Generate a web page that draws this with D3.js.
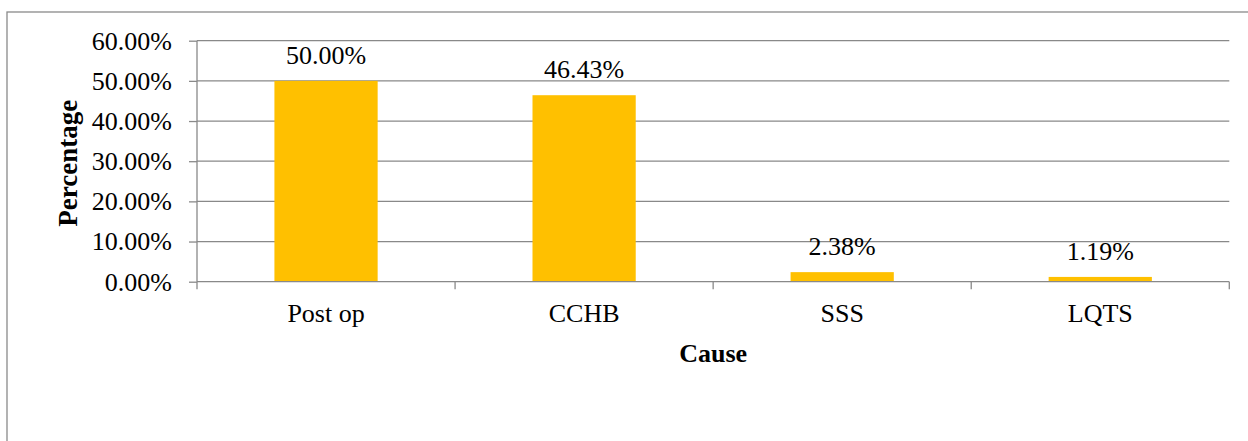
<!DOCTYPE html>
<html>
<head>
<meta charset="utf-8">
<script src="https://cdn.jsdelivr.net/npm/d3@7"></script>
<style>
  html, body { margin: 0; padding: 0; background: #fff; }
  svg { display: block; }
  text { font-family: "Liberation Serif", "Times New Roman", serif; fill: #000; }
</style>
</head>
<body>
<svg id="chart" width="1248" height="441"></svg>
<script>
// Causes and their share of cases
const categories = ["Post op", "CCHB", "SSS", "LQTS"];
const percentages = [0.5000, 0.4643, 0.0238, 0.0119];
const yTicks = [0, 0.1, 0.2, 0.3, 0.4, 0.5, 0.6];
const yTitle = "Percentage";
const xTitle = "Cause";

const svg = d3.select("#chart");
const plot = { left: 197, right: 1229.3, top: 40.7, bottom: 281.7 };
const fmt = d3.format(".2%");
const gridColor = "#898989";
const fontSize = "26px";

// outer frame
svg.append("rect")
  .attr("x", 7).attr("y", 12)
  .attr("width", 1260).attr("height", 460)
  .attr("fill", "none").attr("stroke", "#8a8a8a").attr("stroke-width", 1.3);

const x = d3.scaleBand()
  .domain(categories)
  .range([plot.left, plot.right])
  .paddingInner(0.6)
  .paddingOuter(0.3);

const y = d3.scaleLinear()
  .domain([0, 0.6])
  .range([plot.bottom, plot.top]);

// horizontal gridlines
svg.append("g")
  .selectAll("line")
  .data(yTicks.filter(d => d > 0))
  .join("line")
  .attr("x1", plot.left).attr("x2", plot.right)
  .attr("y1", d => y(d)).attr("y2", d => y(d))
  .attr("stroke", gridColor).attr("stroke-width", 1.3);

// bars
svg.append("g")
  .selectAll("rect")
  .data(categories)
  .join("rect")
  .attr("x", d => x(d))
  .attr("width", x.bandwidth())
  .attr("y", (d, i) => y(percentages[i]))
  .attr("height", (d, i) => y(0) - y(percentages[i]))
  .attr("fill", "#FFC000");

// y axis
const yAxis = svg.append("g")
  .attr("transform", `translate(${plot.left},0)`)
  .call(d3.axisLeft(y).tickValues(yTicks).tickFormat(fmt).tickSize(8).tickPadding(17));
yAxis.select(".domain").remove();
yAxis.selectAll(".tick line").attr("stroke", gridColor).attr("stroke-width", 1.3);
yAxis.selectAll(".tick text")
  .style("font-family", '"Liberation Serif", "Times New Roman", serif')
  .style("font-size", fontSize).attr("fill", "#000");

// vertical axis line
svg.append("line")
  .attr("x1", plot.left).attr("x2", plot.left)
  .attr("y1", plot.top).attr("y2", plot.bottom)
  .attr("stroke", gridColor).attr("stroke-width", 1.3);

// x axis baseline and category boundary ticks
svg.append("line")
  .attr("x1", plot.left).attr("x2", plot.right)
  .attr("y1", y(0)).attr("y2", y(0))
  .attr("stroke", gridColor).attr("stroke-width", 1.3);

const boundaries = d3.range(categories.length + 1).map(i => plot.left + i * x.step());
svg.append("g")
  .selectAll("line")
  .data(boundaries)
  .join("line")
  .attr("x1", d => d).attr("x2", d => d)
  .attr("y1", y(0)).attr("y2", y(0) + 7.5)
  .attr("stroke", gridColor).attr("stroke-width", 1.3);

// category labels
svg.append("g")
  .selectAll("text")
  .data(categories)
  .join("text")
  .attr("x", d => x(d) + x.bandwidth() / 2)
  .attr("y", 322)
  .attr("text-anchor", "middle")
  .style("font-size", fontSize)
  .text(d => d);

// value labels
svg.append("g")
  .selectAll("text")
  .data(categories)
  .join("text")
  .attr("x", d => x(d) + x.bandwidth() / 2)
  .attr("y", (d, i) => y(percentages[i]) - 17)
  .attr("text-anchor", "middle")
  .style("font-size", fontSize)
  .text((d, i) => fmt(percentages[i]));

// axis titles
svg.append("text")
  .attr("x", (plot.left + plot.right) / 2)
  .attr("y", 362)
  .attr("text-anchor", "middle")
  .style("font-size", "26px").style("font-weight", "bold")
  .text(xTitle);

svg.append("text")
  .attr("transform", `translate(77,${(plot.top + plot.bottom) / 2 + 2}) rotate(-90)`)
  .attr("text-anchor", "middle")
  .style("font-size", "27px").style("font-weight", "bold")
  .text(yTitle);
</script>
</body>
</html>
